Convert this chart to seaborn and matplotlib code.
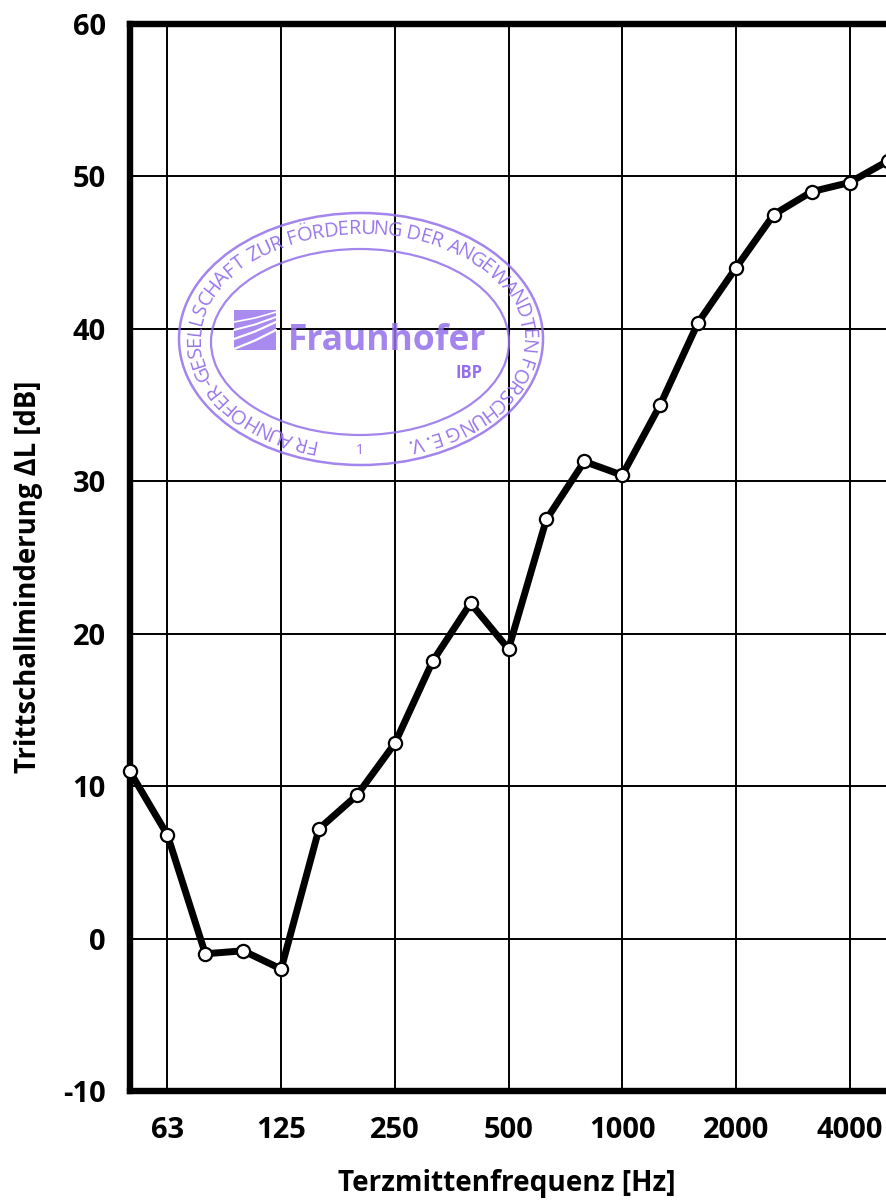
import numpy as np
import pandas as pd
from matplotlib import pyplot as plt
from matplotlib.font_manager import FontProperties
from matplotlib.patches import Ellipse, Rectangle
from matplotlib.textpath import TextPath
import seaborn as sns

# ========================== data ======================== #
frequencies = [50, 63, 80, 100, 125, 160, 200, 250, 315, 400, 500, 630, 800,
               1000, 1250, 1600, 2000, 2500, 3150, 4000, 5000]
deltaL = [11, 6.8, -1, -0.8, -2, 7.2, 9.4, 12.8, 18.2, 22, 19, 27.5, 31.3,
          30.4, 35, 40.4, 44, 47.5, 49, 49.6, 51]
xTickLabels = [63, 125, 250, 500, 1000, 2000, 4000]
yTicks = [-10, 0, 10, 20, 30, 40, 50, 60]

stampText = 'FRAUNHOFER-GESELLSCHAFT ZUR FÖRDERUNG DER ANGEWANDTEN FORSCHUNG E.V.'
stampColor = '#9470ea'

sns.set_theme(style='white')
plt.rcParams['font.family'] = ['Open Sans', 'DejaVu Sans']
plt.rcParams['axes.unicode_minus'] = False

W, H = 886, 1200
fig = plt.figure(figsize=(W / 100, H / 100), dpi=100)

# the plot area runs past the right edge of the page, as in the scan
left, right, top, bottom = 129.5, 887.5, 24, 1091
ax = fig.add_axes([left / W, 1 - bottom / H, (right - left) / W, (bottom - top) / H])

dataFrame = pd.DataFrame({'pos': range(len(frequencies)), 'dL': deltaL})
sns.lineplot(data=dataFrame, x='pos', y='dL', ax=ax, color='black', linewidth=5,
             marker='o', markersize=9.5, markerfacecolor='white',
             markeredgecolor='black', markeredgewidth=1.6, clip_on=False, zorder=5)

ax.set_xlim(0, len(frequencies) - 1)
ax.set_ylim(-10, 60)
ax.set_xticks([frequencies.index(f) for f in xTickLabels])
ax.set_xticklabels(xTickLabels)
ax.set_yticks(yTicks)
ax.grid(True, color='black', linewidth=1.4)
ax.tick_params(length=0, labelsize=21)
ax.tick_params(axis='x', pad=18)
ax.tick_params(axis='y', pad=17)
for label in ax.get_xticklabels() + ax.get_yticklabels():
    label.set_fontweight('bold')
    label.set_color('black')
for spine in ax.spines.values():
    spine.set_linewidth(4.6)
    spine.set_color('black')
ax.set_xlabel('')
ax.set_ylabel('')

fig.text(507 / W, 1 - 1184 / H, 'Terzmittenfrequenz [Hz]', ha='center', va='center',
         fontsize=20.2, fontweight='bold', color='black')
fig.text(29 / W, 1 - 577 / H, 'Trittschallminderung ΔL [dB]', ha='center', va='center',
         rotation=90, fontsize=19.8, fontweight='bold', color='black')

# ========================== stamp, drawn in page pixels ======================== #
st = fig.add_axes([0, 0, 1, 1], facecolor='none', zorder=10)
st.set_xlim(0, W)
st.set_ylim(H, 0)
st.axis('off')

cx, cy = 361, 339
st.add_patch(Ellipse((cx, cy), 364, 252, fill=False, ec=stampColor, lw=1.8, alpha=0.85))
st.add_patch(Ellipse((360, 342), 298, 186, fill=False, ec=stampColor, lw=1.6, alpha=0.85))

# letters along the ring, spaced by their own width
fp = FontProperties(family='Open Sans')
a, b = 166, 110
t = np.radians(np.linspace(106, 434, 3000))
arc = np.concatenate([[0], np.cumsum(np.hypot(np.diff(a * np.cos(t)), np.diff(b * np.sin(t))))])
widths = []
for ch in stampText:
    if ch == ' ':
        widths.append(0.3)
    else:
        widths.append(TextPath((0, 0), ch, size=1, prop=fp).get_extents().x1 + 0.08)
widths = np.array(widths)
centers = (np.cumsum(widths) - widths / 2) / widths.sum() * arc[-1]
for ch, s in zip(stampText, centers):
    ang = np.interp(s, arc, t)
    rot = np.degrees(np.arctan2(-b * np.cos(ang), -a * np.sin(ang)))
    st.text(cx + a * np.cos(ang), cy + b * np.sin(ang), ch, color=stampColor, fontsize=14.5,
            ha='center', va='center', rotation=rot, rotation_mode='anchor', alpha=0.95)

# logo block with swept white stripes
st.add_patch(Rectangle((234, 310), 42, 40, fc='#a98bf0', ec='none'))
for y0, y1, lw in [(322, 312, 1.2), (330, 317, 1.4), (339, 322, 1.6), (349, 330, 1.6)]:
    st.plot([234, 255, 276], [y0, (y0 + y1) / 2 + 1, y1], color='white', lw=lw)
st.text(288, 350, 'Fraunhofer', color=stampColor, fontsize=25.5, fontweight='bold',
        ha='left', va='baseline', alpha=0.85)
st.text(456, 378, 'IBP', color=stampColor, fontsize=12, fontweight='bold', ha='left', va='baseline')
st.text(360, 451, '1', color=stampColor, fontsize=10, ha='center', va='center')

fig.savefig('out.png', dpi=100)
